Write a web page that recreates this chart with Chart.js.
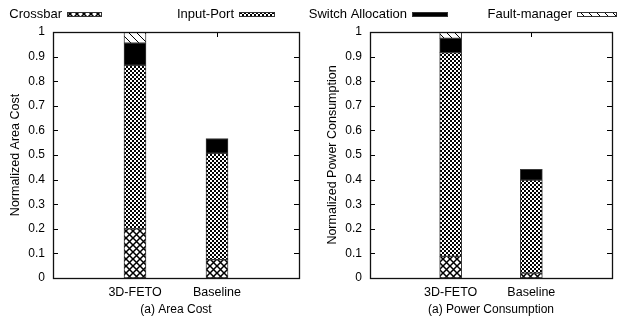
<!DOCTYPE html>
<html>
<head>
<meta charset="utf-8">
<script src="https://cdn.jsdelivr.net/npm/chart.js@4"></script>
<style>
  html, body { margin: 0; padding: 0; background: #fff; }
  #wrap { position: relative; width: 619px; height: 320px; overflow: hidden; }
  canvas { position: absolute; top: 0; }
  #cA { left: 0; }
  #cB { left: 310px; }
</style>
</head>
<body>
<div id="wrap">
  <canvas id="cA" width="619" height="320"></canvas>
  <canvas id="cB" width="309" height="320"></canvas>
</div>
<script>
// ---------------- data ----------------
const categories = ['3D-FETO', 'Baseline'];
const seriesNames = ['Crossbar', 'Input-Port', 'Switch Allocation', 'Fault-manager'];

const areaCrossbar  = [0.200, 0.075];
const areaInputPort = [0.665, 0.432];
const areaSwitch    = [0.090, 0.060];
const areaFault     = [0.045, null];

const powerCrossbar  = [0.088, 0.020];
const powerInputPort = [0.828, 0.378];
const powerSwitch    = [0.058, 0.044];
const powerFault     = [0.026, null];

const yMin = 0, yMax = 1, yStep = 0.1;
const leftTitle = '(a) Area Cost';
const rightTitle = '(a) Power Consumption';
const leftYLabel = 'Normalized Area Cost';
const rightYLabel = 'Normalized Power Consumption';

// ---------------- patterns ----------------
const FONT = 'Liberation Sans, Arial, sans-serif';
function makePattern(kind) {
  const c = document.createElement('canvas');
  const ctx = c.getContext('2d');
  if (kind === 'cross') {
    const p = 7; c.width = p; c.height = p;
    ctx.fillStyle = '#fff'; ctx.fillRect(0, 0, p, p);
    ctx.strokeStyle = '#000'; ctx.lineWidth = 1.5;
    ctx.beginPath();
    ctx.moveTo(-1, -1); ctx.lineTo(p + 1, p + 1);
    ctx.moveTo(p + 1, -1); ctx.lineTo(-1, p + 1);
    ctx.stroke();
  } else if (kind === 'check') {
    c.width = 4; c.height = 4;
    ctx.fillStyle = '#fff'; ctx.fillRect(0, 0, 4, 4);
    ctx.fillStyle = '#000';
    ctx.fillRect(0, 0, 2, 2); ctx.fillRect(2, 2, 2, 2);
  } else if (kind === 'diag') {
    const p = 8; c.width = p; c.height = p;
    ctx.fillStyle = '#fff'; ctx.fillRect(0, 0, p, p);
    ctx.strokeStyle = '#000'; ctx.lineWidth = 1;
    ctx.beginPath();
    ctx.moveTo(-1, -1); ctx.lineTo(p + 1, p + 1);
    ctx.stroke();
  } else {
    c.width = 2; c.height = 2;
    ctx.fillStyle = '#000'; ctx.fillRect(0, 0, 2, 2);
  }
  return ctx.createPattern(c, 'repeat');
}
const kinds = ['cross', 'check', 'solid', 'diag'];
const patterns = {};
kinds.forEach(k => { patterns[k] = makePattern(k); });

// ---------------- plugins ----------------
const frame = {
  id: 'frame',
  beforeDatasetsDraw(chart) {
    const {ctx, chartArea: a} = chart;
    const y = chart.scales.y, x = chart.scales.x;
    ctx.save();
    ctx.strokeStyle = '#000'; ctx.lineWidth = 1;
    ctx.beginPath();
    y.ticks.forEach(t => {
      const py = Math.round(y.getPixelForValue(t.value)) + 0.5;
      ctx.moveTo(a.left, py); ctx.lineTo(a.left + 5, py);
      ctx.moveTo(a.right, py); ctx.lineTo(a.right - 5, py);
    });
    [1, 2].forEach(i => {
      const px = Math.round(x.getPixelForValue(i)) + 0.5;
      ctx.moveTo(px, a.top); ctx.lineTo(px, a.top + 5);
      ctx.moveTo(px, a.bottom); ctx.lineTo(px, a.bottom - 5);
    });
    ctx.stroke();
    ctx.restore();
  },
  afterDatasetsDraw(chart) {
    const {ctx, chartArea: a} = chart;
    ctx.save();
    ctx.strokeStyle = '#111'; ctx.lineWidth = 1.3;
    ctx.strokeRect(Math.round(a.left) + 0.5, Math.round(a.top) + 0.5,
                   Math.round(a.right - a.left), Math.round(a.bottom - a.top));
    ctx.restore();
  }
};

const legendPlugin = {
  id: 'topLegend',
  afterDraw(chart) {
    const ctx = chart.ctx;
    const sw = [67, 239, 412, 577];
    const swW = [35, 36, 36, 40];
    ctx.save();
    ctx.font = '13px ' + FONT;
    ctx.textAlign = 'right';
    ctx.textBaseline = 'middle';
    seriesNames.forEach((name, i) => {
      ctx.fillStyle = '#000';
      ctx.fillText(name, sw[i] - 5, 14.5);
      ctx.fillStyle = patterns[kinds[i]];
      ctx.fillRect(sw[i], 12, swW[i], 5);
      ctx.strokeStyle = '#333'; ctx.lineWidth = 1;
      ctx.strokeRect(sw[i] + 0.5, 12.5, swW[i] - 1, 4);
    });
    ctx.restore();
  }
};

function datasets(arrs) {
  return arrs.map((arr, i) => ({
    label: seriesNames[i],
    data: [null, ...arr, null],
    backgroundColor: patterns[kinds[i]],
    borderColor: '#3a3a3a',
    borderWidth: 1,
    borderSkipped: false,
    barThickness: 22
  }));
}

function makeChart(canvasId, arrs, xTitle, yTitle, yScaleWidth, yTitlePad, padRight, extraPlugins) {
  return new Chart(document.getElementById(canvasId), {
    type: 'bar',
    data: { labels: ['', ...categories, ''], datasets: datasets(arrs) },
    options: {
      responsive: false,
      animation: false,
      devicePixelRatio: 1,
      layout: { padding: { top: 32, right: padRight, left: 0, bottom: 0 } },
      plugins: { legend: { display: false }, tooltip: { enabled: false } },
      scales: {
        x: {
          stacked: true,
          offset: false,
          grid: { display: false, drawTicks: false },
          border: { display: false },
          ticks: { autoSkip: false, maxRotation: 0, padding: 7, color: '#000',
                   font: { family: FONT, size: 12.5 } },
          title: { display: true, text: xTitle, color: '#000',
                   font: { family: FONT, size: 12 }, padding: { top: 0, bottom: 3 } },
          afterFit(s) { s.height = 42; }
        },
        y: {
          stacked: true,
          min: yMin, max: yMax,
          grid: { display: false, drawTicks: false },
          border: { display: false },
          ticks: { stepSize: yStep, padding: 8, color: '#000',
                   font: { family: FONT, size: 12 },
                   callback: v => String(Number(v.toFixed(1))) },
          title: { display: true, text: yTitle, color: '#000',
                   font: { family: FONT, size: 12.5 }, padding: { top: yTitlePad, bottom: 0 } },
          afterFit(s) { s.width = yScaleWidth; }
        }
      }
    },
    plugins: [frame, ...extraPlugins]
  });
}

makeChart('cA', [areaCrossbar, areaInputPort, areaSwitch, areaFault],
          leftTitle, leftYLabel, 53, 8, 320, [legendPlugin]);
makeChart('cB', [powerCrossbar, powerInputPort, powerSwitch, powerFault],
          rightTitle, rightYLabel, 60, 15, 4, []);
</script>
</body>
</html>
